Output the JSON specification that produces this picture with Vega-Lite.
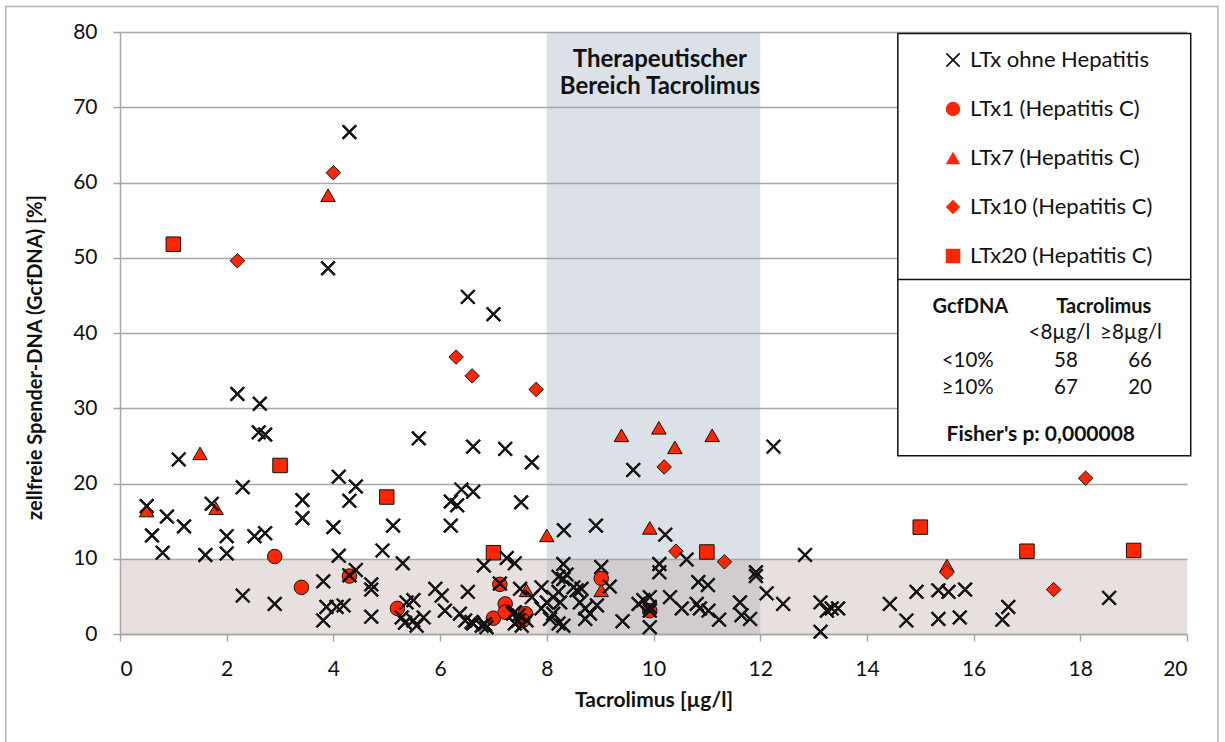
{
  "$schema": "https://vega.github.io/schema/vega-lite/v6.json",
  "width": 1067,
  "height": 602,
  "autosize": {"type": "none"},
  "padding": {"left": 120, "top": 32, "right": 38, "bottom": 108},
  "background": "white",
  "config": {
    "font": "Lato",
    "view": {"stroke": null},
    "axis": {
      "domainColor": "#a6a6a6", "domainWidth": 1.5,
      "tickColor": "#a6a6a6", "tickWidth": 1.5, "tickSize": 7,
      "gridColor": "#a6a6a6", "gridWidth": 1.5,
      "labelFont": "Lato", "labelFontSize": 21, "labelColor": "#111111",
      "titleFont": "Lato", "titleFontSize": 20, "titleFontWeight": "bold", "titleColor": "#111111"
    }
  },
  "datasets": {
    "frame": [{"x": -2.14, "x2": 20.58, "y": -16, "y2": 83.4}],
    "vband": [{"x": 8, "x2": 12, "y": 0, "y2": 80}],
    "hband": [{"x": 0, "x2": 20, "y": 0, "y2": 10}],
    "box": [{"x": 14.58, "x2": 20.07, "y": 23.7, "y2": 79.8}],
    "divider": [{"x": 14.58, "x2": 20.07, "y": 47.1}],
    "bandlabel": [{"x": 10.12, "y": 75.3, "label": "Therapeutischer\nBereich Tacrolimus"}],
    "tablebold": [
      {"x": 15.94, "y": 42.69, "label": "GcfDNA"},
      {"x": 18.44, "y": 42.69, "label": "Tacrolimus"}
    ],
    "fisher": [
      {"x": 17.26, "y": 25.59, "label": "Fisher's p: 0,000008"}
    ],
    "tablecells": [
      {"x": 17.61, "y": 39.14, "label": "<8µg/l"},
      {"x": 18.95, "y": 39.14, "label": "≥8µg/l"},
      {"x": 15.89, "y": 35.46, "label": "<10%"},
      {"x": 17.73, "y": 35.46, "label": "58"},
      {"x": 19.12, "y": 35.46, "label": "66"},
      {"x": 15.89, "y": 31.92, "label": "≥10%"},
      {"x": 17.73, "y": 31.92, "label": "67"},
      {"x": 19.12, "y": 31.92, "label": "20"}
    ],
    "points": [
      {"x": 0.5, "y": 16.4, "g": "LTx7 (Hepatitis C)"},
      {"x": 1.5, "y": 24.0, "g": "LTx7 (Hepatitis C)"},
      {"x": 1.8, "y": 16.7, "g": "LTx7 (Hepatitis C)"},
      {"x": 3.9, "y": 58.3, "g": "LTx7 (Hepatitis C)"},
      {"x": 8.0, "y": 13.1, "g": "LTx7 (Hepatitis C)"},
      {"x": 9.4, "y": 26.4, "g": "LTx7 (Hepatitis C)"},
      {"x": 9.93, "y": 14.1, "g": "LTx7 (Hepatitis C)"},
      {"x": 10.1, "y": 27.4, "g": "LTx7 (Hepatitis C)"},
      {"x": 10.4, "y": 24.8, "g": "LTx7 (Hepatitis C)"},
      {"x": 11.1, "y": 26.4, "g": "LTx7 (Hepatitis C)"},
      {"x": 9.02, "y": 5.8, "g": "LTx7 (Hepatitis C)"},
      {"x": 7.62, "y": 5.8, "g": "LTx7 (Hepatitis C)"},
      {"x": 15.5, "y": 9.1, "g": "LTx7 (Hepatitis C)"},
      {"x": 2.2, "y": 49.6, "g": "LTx10 (Hepatitis C)"},
      {"x": 4.0, "y": 61.3, "g": "LTx10 (Hepatitis C)"},
      {"x": 6.3, "y": 36.8, "g": "LTx10 (Hepatitis C)"},
      {"x": 6.6, "y": 34.3, "g": "LTx10 (Hepatitis C)"},
      {"x": 7.8, "y": 32.5, "g": "LTx10 (Hepatitis C)"},
      {"x": 10.2, "y": 22.2, "g": "LTx10 (Hepatitis C)"},
      {"x": 10.42, "y": 11.0, "g": "LTx10 (Hepatitis C)"},
      {"x": 11.33, "y": 9.6, "g": "LTx10 (Hepatitis C)"},
      {"x": 15.5, "y": 8.2, "g": "LTx10 (Hepatitis C)"},
      {"x": 17.5, "y": 5.9, "g": "LTx10 (Hepatitis C)"},
      {"x": 18.1, "y": 20.7, "g": "LTx10 (Hepatitis C)"},
      {"x": 1.0, "y": 51.8, "g": "LTx20 (Hepatitis C)"},
      {"x": 3.0, "y": 22.4, "g": "LTx20 (Hepatitis C)"},
      {"x": 5.0, "y": 18.2, "g": "LTx20 (Hepatitis C)"},
      {"x": 7.0, "y": 10.8, "g": "LTx20 (Hepatitis C)"},
      {"x": 11.0, "y": 10.9, "g": "LTx20 (Hepatitis C)"},
      {"x": 15.0, "y": 14.2, "g": "LTx20 (Hepatitis C)"},
      {"x": 17.0, "y": 11.0, "g": "LTx20 (Hepatitis C)"},
      {"x": 19.0, "y": 11.1, "g": "LTx20 (Hepatitis C)"},
      {"x": 2.9, "y": 10.3, "g": "LTx1 (Hepatitis C)"},
      {"x": 3.4, "y": 6.2, "g": "LTx1 (Hepatitis C)"},
      {"x": 4.3, "y": 7.7, "g": "LTx1 (Hepatitis C)"},
      {"x": 5.2, "y": 3.4, "g": "LTx1 (Hepatitis C)"},
      {"x": 7.0, "y": 2.1, "g": "LTx1 (Hepatitis C)"},
      {"x": 7.12, "y": 6.6, "g": "LTx1 (Hepatitis C)"},
      {"x": 7.22, "y": 4.0, "g": "LTx1 (Hepatitis C)"},
      {"x": 7.22, "y": 2.9, "g": "LTx1 (Hepatitis C)"},
      {"x": 7.6, "y": 2.7, "g": "LTx1 (Hepatitis C)"},
      {"x": 7.55, "y": 1.8, "g": "LTx1 (Hepatitis C)"},
      {"x": 9.02, "y": 7.4, "g": "LTx1 (Hepatitis C)"},
      {"x": 9.93, "y": 3.1, "g": "LTx1 (Hepatitis C)"},
      {"x": 4.3, "y": 66.7, "g": "LTx ohne Hepatitis"},
      {"x": 3.9, "y": 48.6, "g": "LTx ohne Hepatitis"},
      {"x": 6.52, "y": 44.8, "g": "LTx ohne Hepatitis"},
      {"x": 7.0, "y": 42.5, "g": "LTx ohne Hepatitis"},
      {"x": 2.2, "y": 31.9, "g": "LTx ohne Hepatitis"},
      {"x": 2.62, "y": 30.6, "g": "LTx ohne Hepatitis"},
      {"x": 2.6, "y": 26.8, "g": "LTx ohne Hepatitis"},
      {"x": 2.72, "y": 26.5, "g": "LTx ohne Hepatitis"},
      {"x": 5.6, "y": 26.0, "g": "LTx ohne Hepatitis"},
      {"x": 6.62, "y": 24.9, "g": "LTx ohne Hepatitis"},
      {"x": 7.22, "y": 24.6, "g": "LTx ohne Hepatitis"},
      {"x": 7.72, "y": 22.8, "g": "LTx ohne Hepatitis"},
      {"x": 9.62, "y": 21.8, "g": "LTx ohne Hepatitis"},
      {"x": 12.25, "y": 24.9, "g": "LTx ohne Hepatitis"},
      {"x": 1.1, "y": 23.2, "g": "LTx ohne Hepatitis"},
      {"x": 4.1, "y": 20.9, "g": "LTx ohne Hepatitis"},
      {"x": 4.42, "y": 19.6, "g": "LTx ohne Hepatitis"},
      {"x": 2.3, "y": 19.5, "g": "LTx ohne Hepatitis"},
      {"x": 4.3, "y": 17.7, "g": "LTx ohne Hepatitis"},
      {"x": 3.42, "y": 17.8, "g": "LTx ohne Hepatitis"},
      {"x": 0.5, "y": 17.0, "g": "LTx ohne Hepatitis"},
      {"x": 1.72, "y": 17.3, "g": "LTx ohne Hepatitis"},
      {"x": 0.88, "y": 15.6, "g": "LTx ohne Hepatitis"},
      {"x": 3.42, "y": 15.4, "g": "LTx ohne Hepatitis"},
      {"x": 1.2, "y": 14.3, "g": "LTx ohne Hepatitis"},
      {"x": 4.0, "y": 14.2, "g": "LTx ohne Hepatitis"},
      {"x": 5.12, "y": 14.4, "g": "LTx ohne Hepatitis"},
      {"x": 6.2, "y": 14.4, "g": "LTx ohne Hepatitis"},
      {"x": 0.6, "y": 13.1, "g": "LTx ohne Hepatitis"},
      {"x": 2.0, "y": 13.0, "g": "LTx ohne Hepatitis"},
      {"x": 2.52, "y": 13.0, "g": "LTx ohne Hepatitis"},
      {"x": 2.72, "y": 13.4, "g": "LTx ohne Hepatitis"},
      {"x": 0.8, "y": 10.8, "g": "LTx ohne Hepatitis"},
      {"x": 1.6, "y": 10.5, "g": "LTx ohne Hepatitis"},
      {"x": 2.0, "y": 10.7, "g": "LTx ohne Hepatitis"},
      {"x": 4.1, "y": 10.4, "g": "LTx ohne Hepatitis"},
      {"x": 4.92, "y": 11.1, "g": "LTx ohne Hepatitis"},
      {"x": 6.4, "y": 19.2, "g": "LTx ohne Hepatitis"},
      {"x": 6.62, "y": 18.9, "g": "LTx ohne Hepatitis"},
      {"x": 6.2, "y": 17.6, "g": "LTx ohne Hepatitis"},
      {"x": 6.32, "y": 17.1, "g": "LTx ohne Hepatitis"},
      {"x": 7.52, "y": 17.5, "g": "LTx ohne Hepatitis"},
      {"x": 8.32, "y": 13.8, "g": "LTx ohne Hepatitis"},
      {"x": 8.92, "y": 14.4, "g": "LTx ohne Hepatitis"},
      {"x": 10.22, "y": 13.2, "g": "LTx ohne Hepatitis"},
      {"x": 12.84, "y": 10.5, "g": "LTx ohne Hepatitis"},
      {"x": 10.62, "y": 9.9, "g": "LTx ohne Hepatitis"},
      {"x": 5.3, "y": 9.4, "g": "LTx ohne Hepatitis"},
      {"x": 6.82, "y": 9.1, "g": "LTx ohne Hepatitis"},
      {"x": 7.25, "y": 10.1, "g": "LTx ohne Hepatitis"},
      {"x": 7.4, "y": 9.4, "g": "LTx ohne Hepatitis"},
      {"x": 8.31, "y": 9.3, "g": "LTx ohne Hepatitis"},
      {"x": 10.11, "y": 9.3, "g": "LTx ohne Hepatitis"},
      {"x": 9.02, "y": 8.9, "g": "LTx ohne Hepatitis"},
      {"x": 4.42, "y": 8.5, "g": "LTx ohne Hepatitis"},
      {"x": 4.3, "y": 7.8, "g": "LTx ohne Hepatitis"},
      {"x": 8.37, "y": 7.9, "g": "LTx ohne Hepatitis"},
      {"x": 8.31, "y": 7.3, "g": "LTx ohne Hepatitis"},
      {"x": 8.22, "y": 7.6, "g": "LTx ohne Hepatitis"},
      {"x": 11.92, "y": 8.2, "g": "LTx ohne Hepatitis"},
      {"x": 11.92, "y": 7.7, "g": "LTx ohne Hepatitis"},
      {"x": 10.11, "y": 8.2, "g": "LTx ohne Hepatitis"},
      {"x": 3.81, "y": 7.0, "g": "LTx ohne Hepatitis"},
      {"x": 10.84, "y": 6.9, "g": "LTx ohne Hepatitis"},
      {"x": 11.02, "y": 6.5, "g": "LTx ohne Hepatitis"},
      {"x": 7.12, "y": 6.7, "g": "LTx ohne Hepatitis"},
      {"x": 9.18, "y": 6.3, "g": "LTx ohne Hepatitis"},
      {"x": 4.71, "y": 6.6, "g": "LTx ohne Hepatitis"},
      {"x": 4.71, "y": 5.9, "g": "LTx ohne Hepatitis"},
      {"x": 5.91, "y": 6.0, "g": "LTx ohne Hepatitis"},
      {"x": 6.03, "y": 5.1, "g": "LTx ohne Hepatitis"},
      {"x": 6.52, "y": 5.6, "g": "LTx ohne Hepatitis"},
      {"x": 7.5, "y": 6.0, "g": "LTx ohne Hepatitis"},
      {"x": 7.9, "y": 6.2, "g": "LTx ohne Hepatitis"},
      {"x": 7.72, "y": 4.9, "g": "LTx ohne Hepatitis"},
      {"x": 8.5, "y": 6.2, "g": "LTx ohne Hepatitis"},
      {"x": 8.56, "y": 5.8, "g": "LTx ohne Hepatitis"},
      {"x": 8.65, "y": 6.0, "g": "LTx ohne Hepatitis"},
      {"x": 8.22, "y": 5.6, "g": "LTx ohne Hepatitis"},
      {"x": 8.12, "y": 4.9, "g": "LTx ohne Hepatitis"},
      {"x": 8.0, "y": 4.2, "g": "LTx ohne Hepatitis"},
      {"x": 8.25, "y": 4.2, "g": "LTx ohne Hepatitis"},
      {"x": 8.62, "y": 4.2, "g": "LTx ohne Hepatitis"},
      {"x": 8.72, "y": 3.4, "g": "LTx ohne Hepatitis"},
      {"x": 8.81, "y": 2.7, "g": "LTx ohne Hepatitis"},
      {"x": 8.94, "y": 3.8, "g": "LTx ohne Hepatitis"},
      {"x": 8.72, "y": 2.0, "g": "LTx ohne Hepatitis"},
      {"x": 7.9, "y": 3.4, "g": "LTx ohne Hepatitis"},
      {"x": 8.12, "y": 2.7, "g": "LTx ohne Hepatitis"},
      {"x": 8.06, "y": 2.0, "g": "LTx ohne Hepatitis"},
      {"x": 8.22, "y": 1.4, "g": "LTx ohne Hepatitis"},
      {"x": 8.31, "y": 1.1, "g": "LTx ohne Hepatitis"},
      {"x": 2.3, "y": 5.1, "g": "LTx ohne Hepatitis"},
      {"x": 2.9, "y": 4.0, "g": "LTx ohne Hepatitis"},
      {"x": 3.87, "y": 3.6, "g": "LTx ohne Hepatitis"},
      {"x": 4.06, "y": 3.6, "g": "LTx ohne Hepatitis"},
      {"x": 4.19, "y": 3.8, "g": "LTx ohne Hepatitis"},
      {"x": 3.81, "y": 1.8, "g": "LTx ohne Hepatitis"},
      {"x": 4.71, "y": 2.3, "g": "LTx ohne Hepatitis"},
      {"x": 5.37, "y": 4.2, "g": "LTx ohne Hepatitis"},
      {"x": 5.5, "y": 4.5, "g": "LTx ohne Hepatitis"},
      {"x": 5.28, "y": 2.2, "g": "LTx ohne Hepatitis"},
      {"x": 5.5, "y": 1.8, "g": "LTx ohne Hepatitis"},
      {"x": 5.69, "y": 2.2, "g": "LTx ohne Hepatitis"},
      {"x": 5.56, "y": 1.1, "g": "LTx ohne Hepatitis"},
      {"x": 5.34, "y": 1.5, "g": "LTx ohne Hepatitis"},
      {"x": 6.09, "y": 3.1, "g": "LTx ohne Hepatitis"},
      {"x": 6.37, "y": 2.7, "g": "LTx ohne Hepatitis"},
      {"x": 6.47, "y": 1.8, "g": "LTx ohne Hepatitis"},
      {"x": 6.62, "y": 1.4, "g": "LTx ohne Hepatitis"},
      {"x": 6.78, "y": 1.1, "g": "LTx ohne Hepatitis"},
      {"x": 6.87, "y": 0.9, "g": "LTx ohne Hepatitis"},
      {"x": 6.59, "y": 1.6, "g": "LTx ohne Hepatitis"},
      {"x": 6.84, "y": 1.3, "g": "LTx ohne Hepatitis"},
      {"x": 7.37, "y": 2.7, "g": "LTx ohne Hepatitis"},
      {"x": 7.47, "y": 2.5, "g": "LTx ohne Hepatitis"},
      {"x": 7.4, "y": 1.4, "g": "LTx ohne Hepatitis"},
      {"x": 7.4, "y": 2.9, "g": "LTx ohne Hepatitis"},
      {"x": 7.47, "y": 1.8, "g": "LTx ohne Hepatitis"},
      {"x": 7.62, "y": 1.8, "g": "LTx ohne Hepatitis"},
      {"x": 7.53, "y": 1.1, "g": "LTx ohne Hepatitis"},
      {"x": 9.42, "y": 1.7, "g": "LTx ohne Hepatitis"},
      {"x": 9.72, "y": 4.0, "g": "LTx ohne Hepatitis"},
      {"x": 9.81, "y": 4.5, "g": "LTx ohne Hepatitis"},
      {"x": 9.93, "y": 4.9, "g": "LTx ohne Hepatitis"},
      {"x": 9.93, "y": 3.6, "g": "LTx ohne Hepatitis"},
      {"x": 9.93, "y": 0.9, "g": "LTx ohne Hepatitis"},
      {"x": 9.93, "y": 3.1, "g": "LTx ohne Hepatitis"},
      {"x": 10.31, "y": 4.9, "g": "LTx ohne Hepatitis"},
      {"x": 10.53, "y": 3.4, "g": "LTx ohne Hepatitis"},
      {"x": 10.81, "y": 4.0, "g": "LTx ohne Hepatitis"},
      {"x": 10.87, "y": 3.4, "g": "LTx ohne Hepatitis"},
      {"x": 11.03, "y": 3.1, "g": "LTx ohne Hepatitis"},
      {"x": 11.23, "y": 1.9, "g": "LTx ohne Hepatitis"},
      {"x": 11.62, "y": 4.2, "g": "LTx ohne Hepatitis"},
      {"x": 11.65, "y": 2.5, "g": "LTx ohne Hepatitis"},
      {"x": 11.81, "y": 2.0, "g": "LTx ohne Hepatitis"},
      {"x": 12.12, "y": 5.4, "g": "LTx ohne Hepatitis"},
      {"x": 12.43, "y": 4.0, "g": "LTx ohne Hepatitis"},
      {"x": 13.13, "y": 4.2, "g": "LTx ohne Hepatitis"},
      {"x": 13.25, "y": 3.1, "g": "LTx ohne Hepatitis"},
      {"x": 13.34, "y": 3.4, "g": "LTx ohne Hepatitis"},
      {"x": 13.46, "y": 3.4, "g": "LTx ohne Hepatitis"},
      {"x": 13.13, "y": 0.3, "g": "LTx ohne Hepatitis"},
      {"x": 14.43, "y": 4.0, "g": "LTx ohne Hepatitis"},
      {"x": 14.74, "y": 1.8, "g": "LTx ohne Hepatitis"},
      {"x": 14.93, "y": 5.6, "g": "LTx ohne Hepatitis"},
      {"x": 15.34, "y": 5.8, "g": "LTx ohne Hepatitis"},
      {"x": 15.53, "y": 5.6, "g": "LTx ohne Hepatitis"},
      {"x": 15.84, "y": 5.9, "g": "LTx ohne Hepatitis"},
      {"x": 15.34, "y": 2.0, "g": "LTx ohne Hepatitis"},
      {"x": 15.74, "y": 2.2, "g": "LTx ohne Hepatitis"},
      {"x": 16.65, "y": 3.6, "g": "LTx ohne Hepatitis"},
      {"x": 16.54, "y": 1.9, "g": "LTx ohne Hepatitis"},
      {"x": 18.54, "y": 4.8, "g": "LTx ohne Hepatitis"}
    ]
  },
  "encoding": {
    "x": {
      "field": "x", "type": "quantitative",
      "scale": {"domain": [0, 20], "nice": false, "zero": false},
      "axis": {
        "values": [0, 2, 4, 6, 8, 10, 12, 14, 16, 18, 20],
        "grid": false, "labelPadding": 17,
        "title": "Tacrolimus [µg/l]", "titleY": 72, "titleBaseline": "alphabetic", "titleFontSize": 21
      }
    },
    "y": {
      "field": "y", "type": "quantitative",
      "scale": {"domain": [0, 80], "nice": false, "zero": false},
      "axis": {
        "values": [0, 10, 20, 30, 40, 50, 60, 70, 80],
        "grid": true, "labelPadding": 16,
        "title": "zellfreie Spender-DNA (GcfDNA) [%]",
        "titleAngle": -90, "titleX": -79, "titleY": 325,
        "titleAlign": "center", "titleBaseline": "alphabetic"
      }
    }
  },
  "layer": [
    {
      "data": {"name": "frame"},
      "mark": {"type": "rect", "fill": null, "stroke": "#b3b3b3", "strokeWidth": 1.5},
      "encoding": {"x2": {"field": "x2"}, "y2": {"field": "y2"}}
    },
    {
      "data": {"name": "vband"},
      "mark": {"type": "rect", "fill": "#9ba9ba", "opacity": 0.35},
      "encoding": {"x2": {"field": "x2"}, "y2": {"field": "y2"}}
    },
    {
      "data": {"name": "hband"},
      "mark": {"type": "rect", "fill": "#bda6a1", "opacity": 0.35},
      "encoding": {"x2": {"field": "x2"}, "y2": {"field": "y2"}}
    },
    {
      "data": {"name": "box"},
      "mark": {"type": "rect", "fill": "white", "stroke": "#111111", "strokeWidth": 1.5},
      "encoding": {"x2": {"field": "x2"}, "y2": {"field": "y2"}}
    },
    {
      "data": {"name": "divider"},
      "mark": {"type": "rule", "stroke": "#111111", "strokeWidth": 1.5},
      "encoding": {"x2": {"field": "x2"}}
    },
    {
      "data": {"name": "bandlabel"},
      "mark": {"type": "text", "font": "Lato", "fontSize": 24, "fontWeight": "bold", "align": "center", "baseline": "alphabetic", "lineBreak": "\n", "lineHeight": 27, "color": "#111111"},
      "encoding": {"text": {"field": "label"}}
    },
    {
      "data": {"name": "tablebold"},
      "mark": {"type": "text", "font": "Lato", "fontSize": 20, "fontWeight": "bold", "align": "center", "baseline": "alphabetic", "color": "#111111"},
      "encoding": {"text": {"field": "label"}}
    },
    {
      "data": {"name": "fisher"},
      "mark": {"type": "text", "font": "Lato", "fontSize": 21, "fontWeight": "bold", "align": "center", "baseline": "alphabetic", "color": "#111111"},
      "encoding": {"text": {"field": "label"}}
    },
    {
      "data": {"name": "tablecells"},
      "mark": {"type": "text", "font": "Lato", "fontSize": 20.5, "align": "center", "baseline": "alphabetic", "color": "#111111"},
      "encoding": {"text": {"field": "label"}}
    },
    {
      "data": {"name": "points"},
      "mark": {"type": "point", "filled": true, "stroke": "#111111", "strokeWidth": 1, "size": 210, "opacity": 1},
      "encoding": {
        "shape": {
          "field": "g", "type": "nominal",
          "scale": {
            "domain": ["LTx ohne Hepatitis", "LTx1 (Hepatitis C)", "LTx7 (Hepatitis C)", "LTx10 (Hepatitis C)", "LTx20 (Hepatitis C)"],
            "range": ["M0,-0.17L0.83,-1L1,-0.83L0.17,0L1,0.83L0.83,1L0,0.17L-0.83,1L-1,0.83L-0.17,0L-1,-0.83L-0.83,-1Z", "circle", "triangle-up", "diamond", "square"]
          },
          "legend": {
            "orient": "none", "legendX": 822, "legendY": 17, "title": null,
            "symbolSize": 210, "symbolStrokeColor": "#111111", "symbolStrokeWidth": 1,
            "labelFont": "Lato", "labelFontSize": 22, "labelColor": "#111111", "labelOffset": 6,
            "rowPadding": 27, "padding": 0, "labelLimit": 400
          }
        },
        "fill": {
          "field": "g", "type": "nominal",
          "scale": {
            "domain": ["LTx ohne Hepatitis", "LTx1 (Hepatitis C)", "LTx7 (Hepatitis C)", "LTx10 (Hepatitis C)", "LTx20 (Hepatitis C)"],
            "range": ["#111111", "#ff2600", "#ff2600", "#ff2600", "#ff2600"]
          },
          "legend": {
            "orient": "none", "legendX": 822, "legendY": 17, "title": null,
            "symbolSize": 210, "symbolStrokeColor": "#111111", "symbolStrokeWidth": 1,
            "labelFont": "Lato", "labelFontSize": 22, "labelColor": "#111111", "labelOffset": 6,
            "rowPadding": 27, "padding": 0, "labelLimit": 400
          }
        }
      }
    }
  ]
}
